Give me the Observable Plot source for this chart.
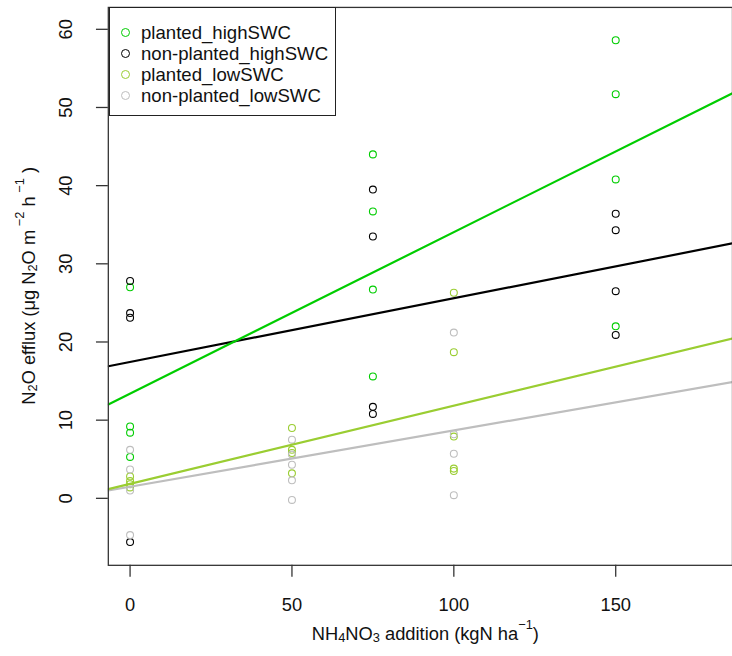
<!DOCTYPE html>
<html><head><meta charset="utf-8">
<script src="https://cdn.jsdelivr.net/npm/d3@7"></script>
<script src="https://cdn.jsdelivr.net/npm/@observablehq/plot@0.6"></script>
<style>
html,body{margin:0;padding:0;background:#fff;overflow:hidden}
#wrap{position:relative;width:732px;height:656px;overflow:hidden;font-family:"Liberation Sans",Arial,sans-serif}
#wrap svg{position:absolute;left:0;top:0}
#legend{position:absolute;left:108.5px;top:7px;width:227px;height:109px;border:1px solid #222;background:#fff;box-sizing:border-box}
.row{position:absolute;left:0;height:21px;line-height:21px;font-size:18.6px;white-space:nowrap;color:#111}
.row .dot{position:absolute;left:11px;top:6px;width:7px;height:7px;border:1.2px solid;border-radius:50%}
.row .lab{position:absolute;left:31.5px}
</style></head><body><div id="wrap"></div>
<script>
// ---- data ----
const seriesNames = ["planted_highSWC", "non-planted_highSWC", "planted_lowSWC", "non-planted_lowSWC"];
const seriesColors = ["#00CD00", "#000000", "#9ACD32", "#BEBEBE"];

const plantedHighX = [0, 0, 0, 0, 75, 75, 75, 75, 150, 150, 150, 150];
const plantedHighY = [27.0, 9.2, 8.4, 5.3, 44.0, 36.7, 26.7, 15.6, 58.6, 51.7, 40.8, 22.0];
const nonPlantedHighX = [0, 0, 0, 0, 75, 75, 75, 75, 150, 150, 150, 150];
const nonPlantedHighY = [27.8, 23.7, 23.1, -5.6, 39.5, 33.5, 11.7, 10.8, 36.4, 34.3, 26.5, 20.9];
const plantedLowX = [0, 0, 0, 0, 50, 50, 50, 50, 100, 100, 100, 100, 100];
const plantedLowY = [2.8, 2.2, 1.8, 1.4, 9.0, 6.2, 5.8, 3.2, 26.3, 18.7, 7.9, 3.8, 3.5];
const nonPlantedLowX = [0, 0, 0, 0, 50, 50, 50, 50, 50, 100, 100, 100, 100];
const nonPlantedLowY = [6.2, 3.7, 1.0, -4.7, 7.5, 5.6, 4.3, 2.3, -0.2, 21.2, 8.2, 5.7, 0.4];

// fitted regression lines (abline)
const lineIntercepts = [13.4, 17.45, 1.85, 1.48];
const lineSlopes = [0.2065, 0.0815, 0.0999, 0.072];

const xTicks = [0, 50, 100, 150];
const yTicks = [0, 10, 20, 30, 40, 50, 60];
const xDomain = [-6.72, 186.07];
const yDomain = [-8.57, 62.8];

// ---- build tables ----
const xs = [plantedHighX, nonPlantedHighX, plantedLowX, nonPlantedLowX];
const ys = [plantedHighY, nonPlantedHighY, plantedLowY, nonPlantedLowY];
const points = seriesNames.flatMap((s, i) => xs[i].map((x, j) => ({series: s, x, y: ys[i][j]})));
const lines = seriesNames.flatMap((s, i) => xDomain.map(x => ({series: s, x, y: lineIntercepts[i] + lineSlopes[i] * x})));
const drawOrder = ["non-planted_lowSWC", "planted_lowSWC", "non-planted_highSWC", "planted_highSWC"];
lines.sort((a, b) => drawOrder.indexOf(a.series) - drawOrder.indexOf(b.series));

const axisColor = "#333";
const chart = Plot.plot({
  width: 740, height: 656,
  marginLeft: 109, marginRight: 0, marginTop: 7, marginBottom: 85,
  style: {fontFamily: "'Liberation Sans', Arial, sans-serif", fontSize: "18.5px", color: "#111", background: "transparent"},
  x: {domain: xDomain, label: null},
  y: {domain: yDomain, label: null},
  color: {domain: seriesNames, range: seriesColors},
  marks: [
    Plot.dot(points, {x: "x", y: "y", stroke: "series", r: 3.5, strokeWidth: 1.1, fill: "none"}),
    Plot.line(lines, {x: "x", y: "y", z: "series", stroke: "series", strokeWidth: 2.2, clip: true}),
    Plot.frame({stroke: axisColor, strokeWidth: 1.3}),
    Plot.axisX({ticks: xTicks, tickSize: 12, tickPadding: 21, stroke: axisColor, strokeWidth: 1.3, label: null, fontSize: 18.5}),
    Plot.axisY({ticks: yTicks, tickSize: 12, tickPadding: 25, tickRotate: -90, stroke: axisColor, strokeWidth: 1.3, label: null, fontSize: 18.5})
  ]
});

const wrap = document.getElementById("wrap");
wrap.appendChild(chart);

// axis titles with sub/superscripts
const svg = d3.select(chart);
function richText(g, parts) {
  let prev = 0;
  for (const p of parts) {
    const shift = p.sub ? 4 : p.sup ? -9 : 0;
    g.append("tspan").attr("dy", shift - prev).attr("font-size", p.sub || p.sup ? 13 : 18.5).text(p.t);
    prev = shift;
  }
}
const yt = svg.append("text")
  .attr("transform", "translate(30,289) rotate(-90)")
  .attr("text-anchor", "middle").attr("fill", "#111").attr("font-size", 18.5).attr("dominant-baseline", "middle");
richText(yt, [{t: "N"}, {t: "2", sub: true}, {t: "O efflux (\u03bcg N"}, {t: "2", sub: true}, {t: "O m"}, {t: " \u22122", sup: true}, {t: " h"}, {t: " \u22121", sup: true}, {t: " )"}]);
const xt = svg.append("text")
  .attr("transform", "translate(430,642)")
  .attr("text-anchor", "middle").attr("fill", "#111").attr("font-size", 18.5).attr("dominant-baseline", "middle");
richText(xt, [{t: "NH"}, {t: "4", sub: true}, {t: "NO"}, {t: "3", sub: true}, {t: " addition (kgN ha"}, {t: "\u22121", sup: true}, {t: ")"}]);

// legend box (top-left inside plot)
const legend = document.createElement("div");
legend.id = "legend";
seriesNames.forEach((s, i) => {
  const row = document.createElement("div");
  row.className = "row";
  row.style.top = (14 + i * 21.1) + "px";
  row.innerHTML = `<span class="dot" style="border-color:${seriesColors[i]}"></span><span class="lab">${s}</span>`;
  legend.appendChild(row);
});
wrap.appendChild(legend);
</script>
</body></html>
